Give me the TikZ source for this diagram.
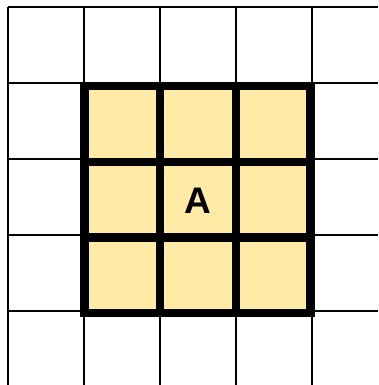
\documentclass[tikz,border=0pt]{standalone}
\usepackage{fontspec}
\setmainfont{Liberation Sans}
\definecolor{cellfill}{HTML}{FFEAA6}
\tikzset{
  thingrid/.style={line width=2.2pt, black},
  thickgrid/.style={line width=8.8pt, black},
  label/.style={font=\bfseries\fontsize{37}{37}\selectfont, inner sep=0pt}
}
\begin{document}
\begin{tikzpicture}[x=1pt,y=-1pt]
\useasboundingbox (0,0) rectangle (378,385);
% thin background grid
\foreach \x in {8,84,160,236,312} \draw[thingrid] (\x,7) -- (\x,385);
\foreach \y in {7,83,159,235,311} \draw[thingrid] (8,\y) -- (378,\y);
% highlighted 3x3 block
\fill[cellfill] (84.5,86) rectangle (310.5,313);
\draw[thickgrid] (84.5,86) rectangle (310.5,313);
\foreach \x in {160,236} \draw[thickgrid] (\x,86) -- (\x,313);
\foreach \y in {162,237.5} \draw[thickgrid] (84.5,\y) -- (310.5,\y);
\node[label] (A) at (198,200.5) {A};
\end{tikzpicture}
\end{document}
